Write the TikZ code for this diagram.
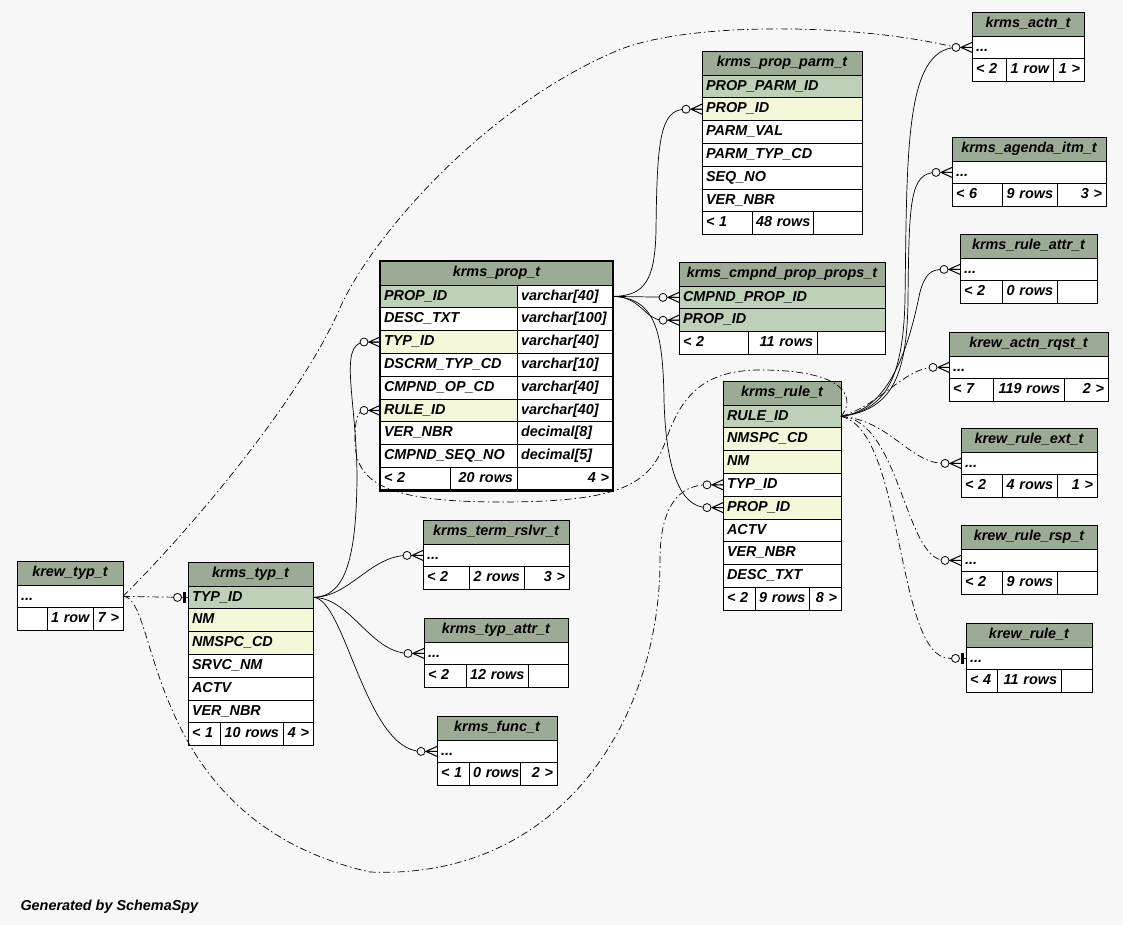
\documentclass[tikz,border=0pt]{standalone}
\usepackage{fontspec}
\setmainfont{Liberation Sans}
\usetikzlibrary{calc}
\definecolor{canvas}{HTML}{F7F7F7}
\definecolor{headfill}{HTML}{9BAB96}
\definecolor{keyfill}{HTML}{BED1B8}
\definecolor{idxfill}{HTML}{F4F7DA}
\newcommand{\tdots}{...}
% table body: id, top left, width, title, rows {style/label/name,...}
\newcommand{\erdtable}[5]{%
  \pgfmathsetmacro\tw{#3-8}%
  \node[thead, text width=\tw pt] (#1-h) at #2 {#4};
  \foreach \kind/\lbl/\cid [remember=\cid as \prev (initially h)] in {#5}{
    \node[\kind, text width=\tw pt] (#1-\cid) at (#1-\prev.south west) {\lbl};
    \coordinate (#1-bl) at (#1-\cid.south west);
  }}
% footer row: id, three cell widths, three texts
\newcommand{\erdfoot}[7]{%
  \pgfmathsetmacro\wa{#2-8}\pgfmathsetmacro\wb{#3-8}\pgfmathsetmacro\wc{#4-8}%
  \node[stdcol, text width=\wa pt] (#1-f1) at (#1-bl) {\mbox{#5}};
  \node[stdcol, align=right, text width=\wb pt] (#1-f2) at (#1-f1.north east) {\mbox{#6}};
  \node[stdcol, align=right, text width=\wc pt] (#1-f3) at (#1-f2.north east) {\mbox{#7}};}

\begin{document}
\begin{tikzpicture}[x=1pt, y=-1pt,
  font=\fontsize{14.4}{17}\selectfont\bfseries\itshape,
  cell/.style={draw, line width=0.8pt, anchor=north west, inner xsep=4pt,
    inner ysep=0pt, outer sep=0pt, minimum height=22.8pt, text height=10.5pt,
    text depth=3pt, align=left},
  stdcol/.style={cell, fill=white},
  pkcol/.style={cell, fill=keyfill},
  ixcol/.style={cell, fill=idxfill},
  thead/.style={cell, fill=headfill, minimum height=24pt, align=center},
  fkline/.style={line width=0.7pt},
  implied/.style={fkline, dash pattern=on 7pt off 3pt on 1.5pt off 3pt},
  zmany/.pic={
    \draw[solid, line width=0.8pt, fill=canvas] (-16,0) circle (4pt);
    \draw[solid, line width=1pt] (-11,0) -- (0,-5) (-11,0) -- (0,5) (-11,0) -- (0,0);},
  zone/.pic={
    \draw[solid, line width=0.8pt, fill=canvas] (-10.5,0) circle (4pt);
    \draw[solid, line width=2.5pt] (-3.5,-5.5) -- (-3.5,5.5);}]
\fill[canvas] (0,0) rectangle (1123,925);
\useasboundingbox (0,0) rectangle (1123,925);

% krms_prop_t, two columns
\node[thead, text width=225pt] (prop-h) at (380,261) {krms\_prop\_t};
\foreach \kind/\lbl/\dtype/\cid [remember=\cid as \prev (initially h)] in {
    pkcol/PROP\_ID/varchar[40]/pk, stdcol/DESC\_TXT/varchar[100]/desc,
    ixcol/TYP\_ID/varchar[40]/typ, stdcol/DSCRM\_TYP\_CD/varchar[10]/dscrm,
    stdcol/CMPND\_OP\_CD/varchar[40]/op, ixcol/RULE\_ID/varchar[40]/rid,
    stdcol/VER\_NBR/decimal[8]/ver, stdcol/CMPND\_SEQ\_NO/decimal[5]/seq}{
  \node[\kind, text width=129pt] (prop-\cid) at (prop-\prev.south west) {\lbl};
  \node[stdcol, text width=88pt] (prop-\cid-t) at (prop-\cid.north east) {\dtype};
  \coordinate (prop-bl) at (prop-\cid.south west);
}
\erdfoot{prop}{70}{67}{96}{< 2}{20 rows}{4 >}
\draw[line width=2.6pt] (prop-h.north west) rectangle (prop-f3.south east);

\erdtable{parm}{(702,51)}{160}{krms\_prop\_parm\_t}{pkcol/PROP\_PARM\_ID/ppid,
  ixcol/PROP\_ID/pid, stdcol/PARM\_VAL/val, stdcol/PARM\_TYP\_CD/typ,
  stdcol/SEQ\_NO/seq, stdcol/VER\_NBR/ver}
\erdfoot{parm}{50}{61}{49}{< 1}{48 rows}{}

\erdtable{cmpnd}{(679,262)}{206}{krms\_cmpnd\_prop\_props\_t}{pkcol/CMPND\_PROP\_ID/cpid,
  pkcol/PROP\_ID/pid}
\erdfoot{cmpnd}{69}{69}{68}{< 2}{11 rows}{}

\erdtable{rule}{(723,381)}{118}{krms\_rule\_t}{pkcol/RULE\_ID/rid, ixcol/NMSPC\_CD/ns,
  ixcol/NM/nm, stdcol/TYP\_ID/tid, ixcol/PROP\_ID/pid, stdcol/ACTV/act,
  stdcol/VER\_NBR/ver, stdcol/DESC\_TXT/desc}
\erdfoot{rule}{32}{54}{32}{< 2}{9 rows}{8 >}

\erdtable{typ}{(188,562)}{125}{krms\_typ\_t}{pkcol/TYP\_ID/tid, ixcol/NM/nm,
  ixcol/NMSPC\_CD/ns, stdcol/SRVC\_NM/srv, stdcol/ACTV/act, stdcol/VER\_NBR/ver}
\erdfoot{typ}{32}{63}{30}{< 1}{10 rows}{4 >}

\erdtable{ktyp}{(17,561)}{106}{krew\_typ\_t}{stdcol/\tdots/dots}
\erdfoot{ktyp}{30}{46}{30}{}{1 row}{7 >}

\erdtable{actn}{(972,12)}{112}{krms\_actn\_t}{stdcol/\tdots/dots}
\erdfoot{actn}{34}{47}{31}{< 2}{1 row}{1 >}

\erdtable{agenda}{(952,137)}{154}{krms\_agenda\_itm\_t}{stdcol/\tdots/dots}
\erdfoot{agenda}{50}{55}{49}{< 6}{9 rows}{3 >}

\erdtable{rattr}{(960,234)}{137}{krms\_rule\_attr\_t}{stdcol/\tdots/dots}
\erdfoot{rattr}{42}{55}{40}{< 2}{0 rows}{}

\erdtable{rqst}{(949,332)}{159}{krew\_actn\_rqst\_t}{stdcol/\tdots/dots}
\erdfoot{rqst}{44}{71}{44}{< 7}{119 rows}{2 >}

\erdtable{rext}{(961,428)}{136}{krew\_rule\_ext\_t}{stdcol/\tdots/dots}
\erdfoot{rext}{41}{55}{40}{< 2}{4 rows}{1 >}

\erdtable{rrsp}{(961,525)}{136}{krew\_rule\_rsp\_t}{stdcol/\tdots/dots}
\erdfoot{rrsp}{41}{55}{40}{< 2}{9 rows}{}

\erdtable{krule}{(966,623)}{126}{krew\_rule\_t}{stdcol/\tdots/dots}
\erdfoot{krule}{31}{64}{31}{< 4}{11 rows}{}

\erdtable{term}{(423,520)}{146}{krms\_term\_rslvr\_t}{stdcol/\tdots/dots}
\erdfoot{term}{46}{55}{45}{< 2}{2 rows}{3 >}

\erdtable{tattr}{(424,618)}{144}{krms\_typ\_attr\_t}{stdcol/\tdots/dots}
\erdfoot{tattr}{42}{62}{40}{< 2}{12 rows}{}

\erdtable{func}{(437,716)}{120}{krms\_func\_t}{stdcol/\tdots/dots}
\erdfoot{func}{32}{51}{37}{< 1}{0 rows}{2 >}

\node[anchor=base west] (credit) at (17,910) {Generated by SchemaSpy};

% keys out of krms_prop_t
\draw[fkline] (prop-pk-t.east) .. controls (645,296) and (655,280) .. (656,230)
  .. controls (657,140) and (660,109) .. ([xshift=-16pt]parm-pid.west) -- (parm-pid.west);
\draw[fkline] (prop-pk-t.east) -- (cmpnd-cpid.west);
\draw[fkline] (prop-pk-t.east) .. controls (640,296) and (645,320) .. ([xshift=-16pt]cmpnd-pid.west) -- (cmpnd-pid.west);
\draw[fkline] (prop-pk-t.east) .. controls (655,298) and (663,330) .. (664,400)
  .. controls (666,470) and (680,507) .. ([xshift=-16pt]rule-pid.west) -- (rule-pid.west);

% keys out of krms_typ_t
\draw[fkline] (typ-tid.east) .. controls (345,597) and (356,560) .. (357,480)
  .. controls (357,400) and (338,345) .. ([xshift=-16pt]prop-typ.west) -- (prop-typ.west);
\draw[fkline] (typ-tid.east) .. controls (350,597) and (370,556) .. ([xshift=-16pt]term-dots.west) -- (term-dots.west);
\draw[fkline] (typ-tid.east) .. controls (350,597) and (370,652) .. ([xshift=-16pt]tattr-dots.west) -- (tattr-dots.west);
\draw[fkline] (typ-tid.east) .. controls (345,597) and (365,750) .. ([xshift=-16pt]func-dots.west) -- (func-dots.west);

% implied keys out of krew_typ_t
\draw[implied] (ktyp-dots.east) -- (typ-tid.west);
\draw[implied] (ktyp-dots.east) .. controls (190,530) and (300,400) .. (340,308)
  .. controls (370,240) and (480,110) .. (614,52)
  .. controls (680,22) and (850,22) .. ([xshift=-16pt]actn-dots.west) -- (actn-dots.west);
\draw[implied] (ktyp-dots.east) .. controls (160,596) and (140,820) .. (370,872)
  .. controls (560,880) and (660,720) .. (660,560)
  .. controls (660,505) and (680,485) .. ([xshift=-16pt]rule-tid.west) -- (rule-tid.west);

% keys out of krms_rule_t
\draw[implied] (rule-rid.east) .. controls (855,400) and (850,370) .. (760,370)
  .. controls (700,370) and (680,400) .. (666,440)
  .. controls (650,485) and (620,502) .. (500,502)
  .. controls (380,502) and (355,480) .. (355,440)
  .. controls (355,418) and (358,411) .. ([xshift=-16pt]prop-rid.west) -- (prop-rid.west);
\draw[fkline] (rule-rid.east) .. controls (885,410) and (903,380) .. (905,300)
  .. controls (907,150) and (905,50) .. ([xshift=-16pt]actn-dots.west) -- (actn-dots.west);
\draw[fkline] (rule-rid.east) .. controls (890,410) and (907,380) .. (908,300)
  .. controls (909,200) and (910,173) .. ([xshift=-16pt]agenda-dots.west) -- (agenda-dots.west);
\draw[fkline] (rule-rid.east) .. controls (895,410) and (912,330) .. (920,292)
  .. controls (925,275) and (930,269) .. ([xshift=-16pt]rattr-dots.west) -- (rattr-dots.west);
\draw[implied] (rule-rid.east) .. controls (880,405) and (905,368) .. ([xshift=-16pt]rqst-dots.west) -- (rqst-dots.west);
\draw[implied] (rule-rid.east) .. controls (890,420) and (910,464) .. ([xshift=-16pt]rext-dots.west) -- (rext-dots.west);
\draw[implied] (rule-rid.east) .. controls (900,420) and (905,561) .. ([xshift=-16pt]rrsp-dots.west) -- (rrsp-dots.west);
\draw[implied] (rule-rid.east) .. controls (905,430) and (895,659) .. ([xshift=-16pt]krule-dots.west) -- (krule-dots.west);

% ends
\foreach \c in {parm-pid, cmpnd-cpid, cmpnd-pid, rule-pid, rule-tid, prop-typ, prop-rid,
    term-dots, tattr-dots, func-dots, actn-dots, agenda-dots, rattr-dots, rqst-dots,
    rext-dots, rrsp-dots}
  \pic at (\c.west) {zmany};
\foreach \c in {typ-tid, krule-dots}
  \pic at (\c.west) {zone};
\end{tikzpicture}
\end{document}
